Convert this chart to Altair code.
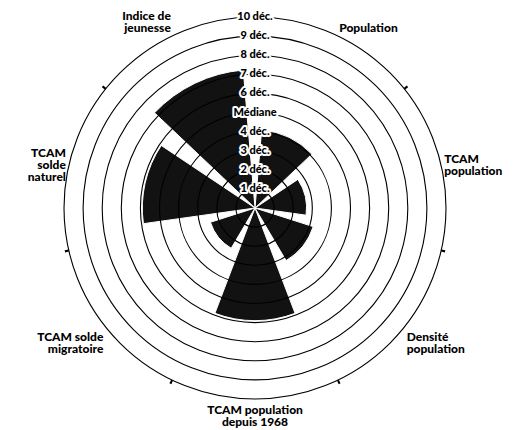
import math
import altair as alt
import pandas as pd

# ---- data ----
categories = ["Population", "TCAM population", "Densité population",
              "TCAM population depuis 1968", "TCAM solde migratoire",
              "TCAM solde naturel", "Indice de jeunesse"]
values = [4.1, 2.7, 3.2, 5.9, 2.45, 5.9, 7.25]
label_text = ["Population", "TCAM\npopulation", "Densité\npopulation",
              "TCAM population\ndepuis 1968", "TCAM solde\nmigratoire",
              "TCAM\nsolde\nnaturel", "Indice de\njeunesse"]
ring_levels = [1, 2, 3, 4, 5, 6, 7, 8, 9, 10]
ring_labels = ["1 déc.", "2 déc.", "3 déc.", "4 déc.", "Médiane",
               "6 déc.", "7 déc.", "8 déc.", "9 déc.", "10 déc."]

n = len(categories)
FONT = "Lato"
LH = 12

theta_scale = alt.Scale(domain=[0, n], range=[0, 2 * math.pi])
radius_scale = alt.Scale(type="linear", domain=[0, 10], range=[0, 191], zero=True)

bars_df = pd.DataFrame({
    "cat": categories,
    "start": list(range(n)),
    "end": [i + 1 for i in range(n)],
    "value": values,
})
rings_df = pd.DataFrame({"level": ring_levels, "label": ring_labels})
ticks_df = pd.DataFrame({"b": list(range(n))})
labels_df = pd.DataFrame({"idx": list(range(n)),
                          "mid": [i + 0.5 for i in range(n)],
                          "text": label_text})


def style_for(i):
    a = (i + 0.5) / n * 2 * math.pi
    s, c = math.sin(a), math.cos(a)
    align = "left" if s > 0.1 else ("right" if s < -0.1 else "center")
    baseline = "bottom" if c > 0.4 else ("top" if c < -0.4 else "middle")
    k = label_text[i].count("\n")
    dy = {"bottom": -k * LH + 1.5, "middle": -k * LH / 2, "top": 3}[baseline]
    return align, baseline, dy


bars = alt.Chart(bars_df).mark_arc(
    padAngle=0.17, fill="#121212", stroke="white", strokeWidth=1
).encode(
    theta=alt.Theta("start:Q", scale=theta_scale),
    theta2="end:Q",
    radius=alt.Radius("value:Q", scale=radius_scale),
)

rings = alt.Chart(rings_df).mark_arc(
    theta=0, theta2=2 * math.pi, filled=False, stroke="black", strokeWidth=1.1
).encode(
    radius=alt.Radius("level:Q", scale=radius_scale, stack=None),
)

ticks = alt.Chart(ticks_df).transform_calculate(
    t0="datum.b - 0.006", t1="datum.b + 0.006"
).mark_arc(fill="black").encode(
    theta=alt.Theta("t0:Q", scale=theta_scale),
    theta2="t1:Q",
    radius=alt.value(195),
    radius2=alt.value(191),
)

ring_halo = alt.Chart(rings_df).mark_text(
    font=FONT, fontSize=11, fontWeight=900, align="center", baseline="middle",
    fill="white", stroke="white", strokeWidth=4, strokeJoin="round"
).encode(
    theta=alt.value(0),
    radius=alt.Radius("level:Q", scale=radius_scale, stack=None),
    text="label:N",
)
ring_text = alt.Chart(rings_df).mark_text(
    font=FONT, fontSize=11, fontWeight=900, align="center", baseline="middle",
    color="black"
).encode(
    theta=alt.value(0),
    radius=alt.Radius("level:Q", scale=radius_scale, stack=None),
    text="label:N",
)

label_layers = []
for i in range(n):
    al, bl, dy = style_for(i)
    label_layers.append(
        alt.Chart(labels_df).transform_filter(alt.datum.idx == i).mark_text(
            font=FONT, fontSize=12, fontWeight=900, align=al, baseline=bl,
            lineBreak="\n", lineHeight=LH, dy=dy, color="black"
        ).encode(
            theta=alt.Theta("mid:Q", scale=theta_scale),
            radius=alt.value(194),
            text="text:N",
        )
    )

chart = alt.layer(bars, rings, ticks, ring_halo, ring_text, *label_layers).properties(
    width=494, height=382,
    autosize=alt.AutoSizeParams(type="none"),
    padding={"left": 0, "top": 9, "right": 16, "bottom": 29},
    background="white",
).configure_view(stroke=None)

chart.save("out.html", embed_options={"renderer": "svg", "actions": False})
